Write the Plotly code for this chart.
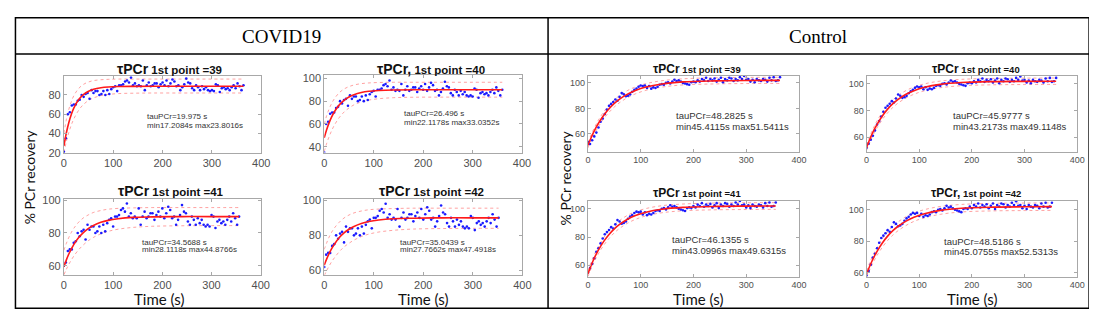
import plotly.graph_objects as go

W, H = 1097, 313
SAMPLE_INTERVAL_S = 4

# ---------------- data ----------------
covid_pcr = [21, 35, 60, 62, 69, 70, 70, 74, 75, 80, 78, 81, 82, 76, 85, 82, 84, 84, 80, 81,
             84, 80, 85, 81, 86, 88, 89, 84, 90, 90, 91, 94, 95, 93, 98, 90, 92, 89, 90, 89,
             95, 85, 90, 93, 89, 90, 92, 92, 88, 91, 93, 90, 95, 89, 92, 96, 94, 89, 90, 85,
             88, 91, 97, 93, 92, 87, 85, 90, 88, 85, 89, 86, 88, 85, 84, 85, 84, 91, 90, 83,
             87, 88, 86, 87, 85, 88, 90, 87, 92, 89, 85, 90]

control_pcr = [53.5, 52, 55, 58, 61, 65, 69.5, 72, 75.5, 79, 82, 83.5, 85, 87, 86, 89, 92, 91,
               89.5, 90, 91, 93, 94.5, 95.5, 97, 98, 97.5, 98, 96, 97.5, 95.5, 96.5, 96, 97,
               98.5, 99, 98.5, 100, 100.5, 99.5, 101, 102.5, 101.5, 102, 101, 100, 99.5, 99,
               98.5, 100.5, 101, 100.5, 102, 101, 103, 102, 104, 101.5, 103, 102, 103.5, 101,
               102.5, 104, 100.5, 103, 102, 104, 103.5, 101.5, 103, 102, 104.5, 103, 105.5,
               102.5, 103, 101, 102.5, 100.5, 103, 102, 101.5, 103, 102.5, 101, 104, 102,
               104.5, 101.5, 102, 104.5]

covid_titles = ["τPCr 1st point =39", "τPCr, 1st point =40", "τPCr 1st point =41", "τPCr 1st point =42"]
control_titles = ["τPCr 1st point =39", "τPCr 1st point =40", "τPCr 1st point =41", "τPCr, 1st point =42"]

covid_tau = ["19.975", "26.496", "34.5688", "35.0439"]
covid_min = ["17.2084", "22.1178", "28.1118", "27.7662"]
covid_max = ["23.8016", "33.0352", "44.8766", "47.4918"]
control_tau = ["48.2825", "45.9777", "46.1355", "48.5186"]
control_min = ["45.4115", "43.2173", "43.0996", "45.0755"]
control_max = ["51.5411", "49.1148", "49.6315", "52.5313"]

# fitted curve and confidence band, read at these times (+ last sample time)
fit_time_s = [0, 5, 10, 15, 20, 30, 40, 50, 60, 75, 90, 110, 140, 180, 240, 300]

covid_fit = [
    [27, 40.7, 51.4, 59.7, 66.2, 75.2, 80.6, 83.9, 85.9, 87.5, 88.3, 88.75, 88.95, 89, 89, 89, 89],
    [48, 55.2, 61.2, 66.2, 70.3, 76.5, 80.7, 83.6, 85.6, 87.5, 88.6, 89.3, 89.8, 90, 90, 90, 90],
    [59.5, 63.6, 67.2, 70.2, 72.9, 77.2, 80.4, 82.8, 84.6, 86.5, 87.7, 88.7, 89.5, 89.8, 90, 90, 90],
    [63, 66.6, 69.7, 72.4, 74.7, 78.6, 81.4, 83.5, 85.1, 86.8, 87.9, 88.8, 89.5, 89.8, 90, 90, 90],
]
covid_upper = [
    [40, 54.4, 65.1, 73.1, 79.1, 86.8, 91.1, 93.5, 94.9, 95.8, 96.2, 96.5, 96.5, 96.5, 96.5, 96.5, 96.5],
    [60, 67.4, 73.3, 78.0, 81.8, 87.2, 90.6, 92.7, 94.1, 95.3, 95.9, 96.3, 96.5, 96.5, 96.5, 96.5, 96.5],
    [69.5, 73.7, 77.3, 80.3, 82.8, 86.6, 89.3, 91.1, 92.5, 93.7, 94.5, 95.0, 95.3, 95.5, 95.5, 95.5, 95.5],
    [72, 75.8, 79.1, 81.8, 84.0, 87.4, 89.9, 91.6, 92.8, 93.9, 94.6, 95.0, 95.3, 95.5, 95.5, 95.5, 95.5],
]
covid_lower = [
    [20, 31.7, 41.1, 48.8, 55.0, 64.2, 70.3, 74.3, 76.9, 79.3, 80.5, 81.4, 81.8, 82, 82, 82, 82],
    [36, 43.1, 49.1, 54.2, 58.6, 65.4, 70.4, 74.0, 76.7, 79.3, 80.9, 82.1, 83.0, 83.4, 83.5, 83.5, 83.5],
    [54.5, 57.9, 60.9, 63.5, 65.9, 69.8, 72.9, 75.4, 77.3, 79.5, 81.0, 82.3, 83.4, 84.1, 84.4, 84.5, 84.5],
    [57, 60.0, 62.6, 65.0, 67.0, 70.6, 73.4, 75.5, 77.3, 79.3, 80.7, 81.9, 82.9, 83.6, 83.9, 84, 84],
]
control_fit = [
    [51, 56.0, 60.5, 64.6, 68.3, 74.6, 79.7, 83.9, 87.3, 91.2, 94.1, 96.8, 99.2, 100.8, 101.6, 101.9, 102],
    [52, 57.2, 61.8, 65.9, 69.6, 75.9, 81.0, 85.1, 88.4, 92.2, 94.9, 97.4, 99.6, 101.0, 101.7, 101.9, 102],
    [54, 58.9, 63.4, 67.3, 70.9, 76.9, 81.8, 85.8, 88.9, 92.6, 95.2, 97.6, 99.7, 101.0, 101.7, 101.9, 102],
    [59, 63.2, 67.0, 70.4, 73.5, 78.8, 83.2, 86.7, 89.5, 92.8, 95.3, 97.5, 99.6, 101.0, 101.7, 101.9, 102],
]
control_upper = [
    [53, 58.2, 62.9, 67.1, 70.9, 77.3, 82.5, 86.7, 90.1, 94.0, 96.8, 99.4, 101.7, 103.2, 104.0, 104.3, 104.4],
    [54, 59.4, 64.2, 68.4, 72.2, 78.6, 83.8, 87.9, 91.2, 95.0, 97.6, 100.0, 102.1, 103.4, 104.1, 104.3, 104.4],
    [56, 61.1, 65.8, 69.8, 73.5, 79.6, 84.6, 88.6, 91.7, 95.4, 97.9, 100.2, 102.2, 103.4, 104.1, 104.3, 104.4],
    [61, 65.4, 69.4, 72.9, 76.1, 81.5, 86.0, 89.5, 92.3, 95.6, 98.0, 100.1, 102.1, 103.4, 104.1, 104.3, 104.4],
]
control_lower = [
    [49, 53.8, 58.1, 62.1, 65.7, 71.9, 76.9, 81.1, 84.5, 88.4, 91.4, 94.2, 96.7, 98.4, 99.2, 99.5, 99.6],
    [50, 55.0, 59.4, 63.4, 67.0, 73.2, 78.2, 82.3, 85.6, 89.4, 92.2, 94.8, 97.1, 98.6, 99.3, 99.5, 99.6],
    [52, 56.7, 61.0, 64.8, 68.3, 74.2, 79.0, 83.0, 86.1, 89.8, 92.5, 95.0, 97.2, 98.6, 99.3, 99.5, 99.6],
    [57, 61.0, 64.6, 67.9, 70.9, 76.1, 80.4, 83.9, 86.7, 90.0, 92.6, 94.9, 97.1, 98.6, 99.3, 99.5, 99.6],
]

# ---------------- layout geometry (pixels) ----------------
geoms = [
    dict(box=(53.5, 253, 66.3, 145.3), yr=(20, 99.5), title=(160, 58.5), txt=(135, 108.3, 117.3)),
    dict(box=(316.7, 516.7, 65.5, 145.2), yr=(35, 102.5), title=(425, 58.5), txt=(395, 105, 114)),
    dict(box=(53.5, 252.5, 192.7, 271.5), yr=(54.5, 101), title=(162, 185), txt=(130, 238.3, 245.7)),
    dict(box=(316.7, 517, 192.7, 271.5), yr=(57.5, 101), title=(425, 185), txt=(391.7, 237.7, 245)),
    dict(box=(583.3, 796.7, 66, 144.3), yr=(46, 105.5), title=(694, 58.5), txt=(670, 106.7, 118.3)),
    dict(box=(865, 1078, 66, 144.3), yr=(49, 106), title=(976, 58.5), txt=(950, 106.7, 118.3)),
    dict(box=(583.3, 796.7, 195, 273.3), yr=(52, 105.7), title=(694, 187), txt=(666.7, 235, 246.7)),
    dict(box=(865, 1078, 195, 273.3), yr=(57.4, 105.75), title=(976, 187), txt=(941.7, 236.7, 247.3)),
]


def fx(px):
    return px / W


def fy(py):
    return 1 - py / H


fig = go.Figure()
annotations = []
layout_axes = {}

SANS = "Liberation Sans, Arial, sans-serif"
AX_COLOR = "#a8a8a8"
TICK_TXT = "#505050"

for k, g in enumerate(geoms):
    covid = k < 4
    j = k % 4
    data = covid_pcr if covid else control_pcr
    y = data[j:]
    x = [SAMPLE_INTERVAL_S * i for i in range(len(y))]
    ft = fit_time_s + [x[-1]]
    fit = (covid_fit if covid else control_fit)[j]
    up = (covid_upper if covid else control_upper)[j]
    lo = (covid_lower if covid else control_lower)[j]

    n = k + 1
    xa = "x" if n == 1 else f"x{n}"
    ya = "y" if n == 1 else f"y{n}"

    for band in (up, lo):
        fig.add_trace(go.Scatter(x=ft, y=band, mode="lines", xaxis=xa, yaxis=ya,
                                 line=dict(color="rgba(255,70,70,0.5)", width=1, dash="dot",
                                           shape="spline"),
                                 hoverinfo="skip", showlegend=False))
    fig.add_trace(go.Scatter(x=x, y=y, mode="markers", xaxis=xa, yaxis=ya,
                             marker=dict(color="#1a1aff", size=2.6), showlegend=False))
    fig.add_trace(go.Scatter(x=ft, y=fit, mode="lines", xaxis=xa, yaxis=ya,
                             line=dict(color="#ff1a1a", width=1.6, shape="spline"),
                             showlegend=False))

    x0, x1, y0, y1 = g["box"]
    tsize = 11 if covid else 9
    common = dict(showline=True, linecolor=AX_COLOR, linewidth=1, mirror="ticks",
                  ticks="inside", ticklen=3, tickcolor=AX_COLOR, showgrid=False,
                  zeroline=False, tickfont=dict(family=SANS, size=tsize, color=TICK_TXT))
    layout_axes["xaxis" if n == 1 else f"xaxis{n}"] = dict(
        domain=[fx(x0), fx(x1)], range=[0, 400], tickvals=[0, 100, 200, 300, 400],
        anchor=ya, **common)
    layout_axes["yaxis" if n == 1 else f"yaxis{n}"] = dict(
        domain=[fy(y1), fy(y0)], range=list(g["yr"]), tick0=0, dtick=20,
        anchor=xa, **common)

    # title
    title = (covid_titles if covid else control_titles)[j]
    head, rest = title.split(" ", 1)
    hs, rs = (14, 11.5) if covid else (12, 9.5)
    tx, ty = g["title"]
    annotations.append(dict(
        x=fx(tx), y=fy(ty), xref="paper", yref="paper", showarrow=False,
        xanchor="center", yanchor="middle",
        text=f"<b><span style='font-size:{hs}px'>{head}</span> {rest}</b>",
        font=dict(family=SANS, size=rs, color="#111111")))

    # fit result texts
    tau = (covid_tau if covid else control_tau)[j]
    mn = (covid_min if covid else control_min)[j]
    mx = (covid_max if covid else control_max)[j]
    px_, l1, l2 = g["txt"]
    fsz = 8 if covid else 9.5
    for line, ly in ((f"tauPCr={tau} s", l1), (f"min{mn}s max{mx}s", l2)):
        annotations.append(dict(
            x=fx(px_), y=fy(ly), xref="paper", yref="paper", showarrow=False,
            xanchor="left", yanchor="middle", text=line,
            font=dict(family=SANS, size=fsz, color="#333333")))

# axis labels
LAB = "Lato, 'Open Sans', sans-serif"
for cx in (150, 416.7, 695, 971.7):
    annotations.append(dict(x=fx(cx), y=fy(296), xref="paper", yref="paper", showarrow=False,
                            xanchor="center", yanchor="middle", text="Time (s)",
                            font=dict(family=LAB, size=15, color="#111111")))
for cx, cy in ((19, 170), (561, 171)):
    annotations.append(dict(x=fx(cx), y=fy(cy), xref="paper", yref="paper", showarrow=False,
                            xanchor="center", yanchor="middle", text="% PCr recovery",
                            textangle=-90,
                            font=dict(family=LAB, size=14, color="#111111")))

# column headers
for cx, txt in ((273, "COVID19"), (816, "Control")):
    annotations.append(dict(x=fx(cx), y=fy(25), xref="paper", yref="paper", showarrow=False,
                            xanchor="center", yanchor="middle", text=txt,
                            font=dict(family="Liberation Serif, 'Times New Roman', serif",
                                      size=19, color="#000000")))

# table lines
shapes = []
lw = 1.5
shapes.append(dict(type="rect", xref="paper", yref="paper", x0=fx(4.5), x1=fx(1090),
                   y0=fy(306), y1=fy(6), line=dict(color="black", width=lw)))
shapes.append(dict(type="line", xref="paper", yref="paper", x0=fx(4.5), x1=fx(1090),
                   y0=fy(43.3), y1=fy(43.3), line=dict(color="black", width=lw)))
shapes.append(dict(type="line", xref="paper", yref="paper", x0=fx(543), x1=fx(543),
                   y0=fy(306), y1=fy(6), line=dict(color="black", width=lw)))

fig.update_layout(
    width=W, height=H, margin=dict(l=0, r=0, t=0, b=0),
    paper_bgcolor="white", plot_bgcolor="white",
    showlegend=False, annotations=annotations, shapes=shapes,
    **layout_axes)

fig.write_html("out.html")
